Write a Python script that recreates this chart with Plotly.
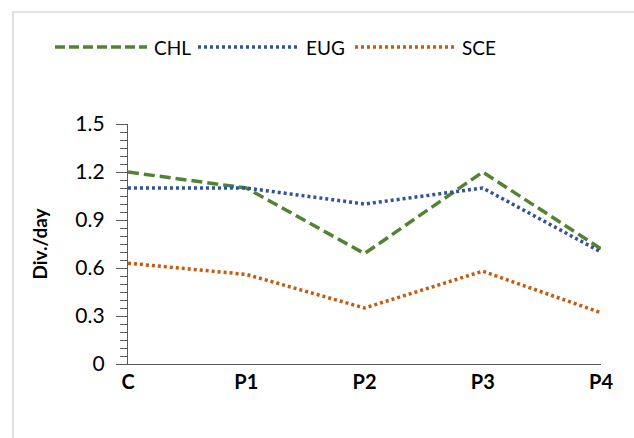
import plotly.graph_objects as go

categories = ["C", "P1", "P2", "P3", "P4"]
chl = [1.20, 1.10, 0.69, 1.20, 0.72]
eug = [1.10, 1.10, 1.00, 1.10, 0.70]
sce = [0.63, 0.56, 0.35, 0.58, 0.32]
series_names = ["CHL", "EUG", "SCE"]
colors = ["#548235", "#2F5597", "#C55A11"]
dashes = ["11px,5px", "3px,3px", "3px,3px"]
legend_dashes = ["10px,4px", "3px,3px", "3px,3px"]

W, H = 634, 438
L, R, T, B = 128, 33, 124, 74
FONT = "Lato, 'Open Sans', sans-serif"

def px_x(p):
    return (p - L) / (W - L - R)

def px_y(p):
    return 1 - (p - T) / (H - T - B)

fig = go.Figure()
for name, vals, col, dsh in zip(series_names, [chl, eug, sce], colors, dashes):
    fig.add_trace(go.Scatter(
        x=list(range(len(categories))), y=vals, name=name, mode="lines",
        line=dict(color=col, width=3.5, dash=dsh),
        showlegend=False,
    ))

shapes = []
annotations = []
# border of chart area
shapes.append(dict(type="rect", xref="paper", yref="paper",
                   x0=px_x(13), x1=px_x(660), y0=px_y(12), y1=px_y(460),
                   line=dict(color="#D9D9D9", width=1.5), fillcolor="rgba(0,0,0,0)", layer="below"))
# custom legend
leg_items = [(55, 147, 152), (198, 298, 304), (355, 455, 460)]
for (x0, x1, tx), name, col, dsh in zip(leg_items, series_names, colors, legend_dashes):
    shapes.append(dict(type="line", xref="paper", yref="paper",
                       x0=px_x(x0), x1=px_x(x1), y0=px_y(47), y1=px_y(47),
                       line=dict(color=col, width=3.5, dash=dsh)))
    annotations.append(dict(xref="paper", yref="paper", x=px_x(tx), y=px_y(47),
                            text=name, showarrow=False, xanchor="left", yanchor="middle",
                            font=dict(family=FONT, size=19, color="#000000")))

fig.update_layout(
    width=W, height=H,
    margin=dict(l=L, r=R, t=T, b=B),
    paper_bgcolor="white", plot_bgcolor="white",
    shapes=shapes, annotations=annotations,
    font=dict(family=FONT, color="#000000"),
)
fig.update_xaxes(
    range=[0, 4], tickmode="array", tickvals=list(range(len(categories))), ticktext=categories,
    showgrid=False, zeroline=False, showline=True, linecolor="#595959", linewidth=1.3,
    ticks="", tickfont=dict(family=FONT, size=20, color="#000000", weight="bold"),
)
fig.update_yaxes(
    range=[0, 1.5], dtick=0.3, tick0=0, showgrid=False, zeroline=False,
    showline=True, linecolor="#595959", linewidth=1.3,
    ticks="outside", ticklen=11, tickcolor="#595959", tickwidth=1.3,
    ticklabelstandoff=7,
    minor=dict(dtick=0.05, ticks="outside", ticklen=7, tickcolor="#595959", tickwidth=1.3),
    tickfont=dict(family=FONT, size=21, color="#000000"),
    title=dict(text="<b>Div./day</b>", font=dict(family=FONT, size=19, color="#000000"), standoff=22),
)
fig.write_html("out.html")
